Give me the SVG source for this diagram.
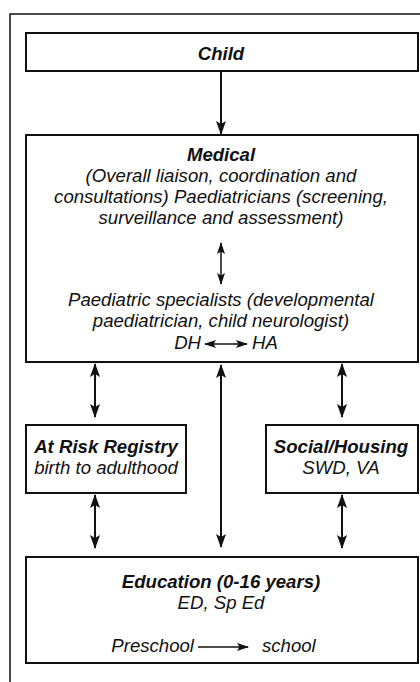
<svg xmlns="http://www.w3.org/2000/svg" width="420" height="682" viewBox="0 0 420 682">
<style>
  .box { fill: #fff; stroke: #111; stroke-width: 2; }
  .t { font-family: "Liberation Sans", Arial, sans-serif; font-style: italic; font-size: 18.6px; fill: #111; text-anchor: middle; }
  .b { font-weight: bold; }
  .s { text-anchor: start; }
  .e { text-anchor: end; }
  .c { stroke: #111; stroke-width: 2; fill: none; }
  .thin { stroke-width: 1.5; }
</style>
<defs>
  <marker id="ah" markerUnits="userSpaceOnUse" markerWidth="14" markerHeight="10" refX="13" refY="5" orient="auto-start-reverse">
    <path d="M0,0 L14,5 L0,10 L3,5 z" fill="#111"/>
  </marker>
  <marker id="ahs" markerUnits="userSpaceOnUse" markerWidth="12" markerHeight="8" refX="11" refY="4" orient="auto-start-reverse">
    <path d="M0,0 L12,4 L0,8 L2.5,4 z" fill="#111"/>
  </marker>
</defs>
<rect x="0" y="0" width="420" height="682" fill="#fff"/>
<path d="M10,682 L10,14 L422,14" fill="none" stroke="#111" stroke-width="1.5"/>

<g id="child">
  <rect class="box" x="26" y="33" width="392" height="38"/>
  <text class="t b" x="221" y="60">Child</text>
</g>

<g id="medical">
  <rect class="box" x="26" y="135" width="392" height="227"/>
  <text class="t b" x="221" y="161">Medical</text>
  <text class="t" x="221" y="182">(Overall liaison, coordination and</text>
  <text class="t" x="221" y="203">consultations) Paediatricians (screening,</text>
  <text class="t" x="221" y="224">surveillance and assessment)</text>
  <text class="t" x="221" y="306">Paediatric specialists (developmental</text>
  <text class="t" x="221" y="327">paediatrician, child neurologist)</text>
  <text class="t e" x="201" y="349">DH</text>
  <text class="t s" x="252" y="349">HA</text>
</g>

<g id="atrisk">
  <rect class="box" x="26" y="425" width="160" height="68"/>
  <text class="t b" x="106" y="453">At Risk Registry</text>
  <text class="t" x="106" y="474">birth to adulthood</text>
</g>

<g id="social">
  <rect class="box" x="266" y="425" width="152" height="68"/>
  <text class="t b" x="341" y="453">Social/Housing</text>
  <text class="t" x="341" y="474">SWD, VA</text>
</g>

<g id="education">
  <rect class="box" x="26" y="557" width="392" height="106"/>
  <text class="t b" x="221" y="588">Education (0-16 years)</text>
  <text class="t" x="221" y="609">ED, Sp Ed</text>
  <text class="t e" x="194" y="652">Preschool</text>
  <text class="t s" x="262" y="652">school</text>
</g>

<g id="connectors">
  <line class="c" x1="221" y1="71" x2="221" y2="134" marker-end="url(#ah)"/>
  <line class="c thin" x1="221" y1="243" x2="221" y2="284" marker-start="url(#ahs)" marker-end="url(#ahs)"/>
  <line class="c thin" x1="205" y1="344" x2="247" y2="344" marker-start="url(#ahs)" marker-end="url(#ahs)"/>
  <line class="c" x1="95" y1="364" x2="95" y2="417" marker-start="url(#ah)" marker-end="url(#ah)"/>
  <line class="c" x1="221" y1="365" x2="221" y2="547" marker-start="url(#ah)" marker-end="url(#ah)"/>
  <line class="c" x1="342" y1="364" x2="342" y2="417" marker-start="url(#ah)" marker-end="url(#ah)"/>
  <line class="c" x1="95" y1="495" x2="95" y2="548" marker-start="url(#ah)" marker-end="url(#ah)"/>
  <line class="c" x1="342" y1="495" x2="342" y2="548" marker-start="url(#ah)" marker-end="url(#ah)"/>
  <line class="c thin" x1="198" y1="647" x2="248" y2="647" marker-end="url(#ahs)"/>
</g>
</svg>
